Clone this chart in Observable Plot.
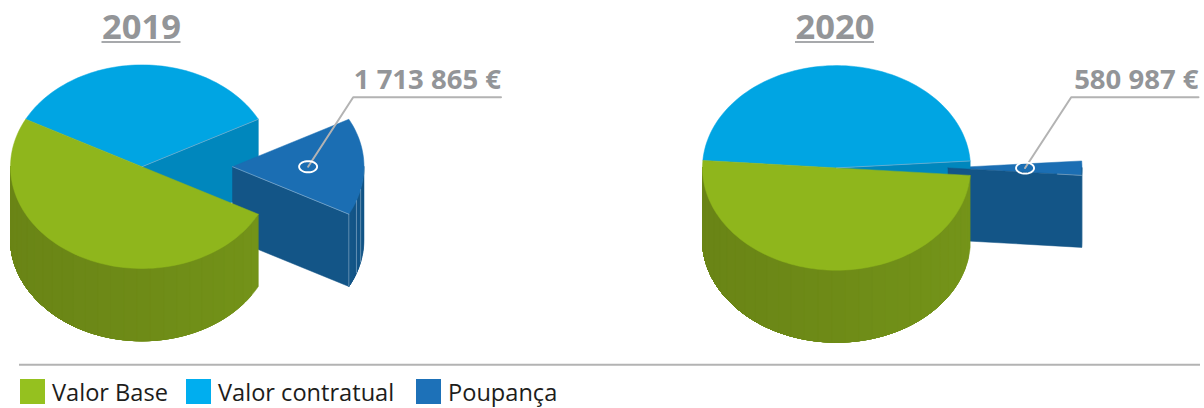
<!DOCTYPE html>
<html>
<head>
<meta charset="utf-8">
<script src="https://cdn.jsdelivr.net/npm/d3@7"></script>
<script src="https://cdn.jsdelivr.net/npm/@observablehq/plot@0.6"></script>
<style>
html,body{margin:0;padding:0;background:#fff;width:1204px;height:408px;overflow:hidden}
svg{display:block}
.legend{position:relative;height:36px;font:23.6px "Open Sans",sans-serif;color:#1d1d1b}
.legend i{position:absolute;top:7px;width:25px;height:25px}
.legend span{position:absolute;top:4px;line-height:32px;white-space:nowrap}
</style>
</head>
<body>
<div id="chart"></div>
<div class="legend" id="legend"></div>
<script>
// Data
const categories = ["Valor Base", "Valor contratual", "Poupança"];
const years = ["2019", "2020"];
const values2019 = [5550000, 3836000, 1713865];
const values2020 = [12910000, 12330000, 580987];
const labels = ["1 713 865 €", "580 987 €"];

// Colours
const legendColors = ["#95c11f", "#00aeef", "#1d71b8"];
const topColors = ["#8fb61c", "#00a5e3", "#1b6eb3"];
const cutColors = [null, "#0087bd", "#135587"];
const wallColors = [["#6a8516", "#749419"], null, ["#135587", "#135587"]];
const seam = "#a9c4d8";
const gray = "#939598";
const ruleGray = "#b3b3b3";

// Layout of each pie
const pies = [
  {year: years[0], values: values2019, label: labels[0], cx: 141.5, cy: 166.2, rx: 131.5, ry: 101.8, depth: 72.3, start: 27.8, explode: 90.5,
   order: ["t1", "c1", "w2", "c2", "t2", "w0", "t0"], seams: [13, 19.5, 27.8],
   titleX: 141, under: [101.5, 180.5], labelEnd: 500.5, elbow: 352.7},
  {year: years[1], values: values2020, label: labels[1], cx: 836, cy: 167.4, rx: 134, ry: 102.3, depth: 72, start: 4.2, explode: 111.5,
   order: ["t1", "t2", "c1", "w2", "c2", "w0", "t0"], seams: [],
   titleX: 834.5, under: [795, 874], labelEnd: 1198, elbow: 1070.7}
];
const rad = Math.PI / 180;

// Faces of the pies, every shape computed from the values
const faces = [], edges = [], rings = [], leaders = [];
pies.forEach((p, pi) => {
  const total = d3.sum(p.values);
  let a = p.start;
  const spans = p.values.map(v => { const s = [a, a + v / total * 360]; a = s[1]; return s; });
  const dx = i => (i === 2 ? p.explode : 0);
  const at = (ang, i, r = 1) => [
    p.cx + dx(i) + r * p.rx * Math.cos(ang * rad),
    p.cy + r * p.ry * Math.sin(ang * rad)
  ];
  const add = (id, color, pts) => [...pts, pts[0]].forEach(([x, y]) => faces.push({id, color, x, y}));
  const parts = {};
  spans.forEach(([a0, a1], i) => {
    const steps = Math.max(4, Math.ceil((a1 - a0) / 2));
    const arc = d3.range(steps + 1).map(k => at(a0 + (a1 - a0) * k / steps, i));
    parts["t" + i] = [[`${pi}-t${i}`, topColors[i], [at(0, i, 0), ...arc]]];
    // the cut face behind the end of the wedge
    if (cutColors[i]) {
      const e = at(a1, i);
      const o = at(0, i, 0);
      parts["c" + i] = [[`${pi}-c${i}`, cutColors[i], [o, e, [e[0], e[1] + p.depth], [o[0], o[1] + p.depth]]]];
    }
    // the rounded wall: stepped shades on the front half only; each band runs
    // on under the next one, so that no background shows between the bands
    if (wallColors[i]) {
      const strips = [];
      const tint = d3.interpolateRgb(wallColors[i][0], wallColors[i][1]);
      const shift = a0 >= 180 ? 360 : 0;
      const s0 = Math.max(a0 - shift, 0), s1 = Math.min(a1 - shift, 180);
      const n = Math.ceil((s1 - s0) / 6);
      d3.range(n).forEach(k => {
        const b0 = s0 + (s1 - s0) * k / n;
        const b1 = s0 + (s1 - s0) * (k + 1) / n;
        const m = Math.max(2, Math.ceil((s1 - b0) / 1.5));
        const fine = d3.range(m + 1).map(j => at(b0 + (s1 - b0) * j / m, i));
        const t = Math.cos((b0 + b1) / 2 * rad);
        const c = tint(Math.pow((1 + t) / 2, 1.3));
        const poly = [...fine, ...fine.slice().reverse().map(q => [q[0], q[1] + p.depth])];
        strips.push([`${pi}-w${i}-${k}`, c, poly]);
      });
      parts["w" + i] = strips;
    }
  });
  p.order.forEach(key => (parts[key] || []).forEach(([id, color, pts]) => add(id, color, pts)));

  // fine lighter seams
  const poupEnd = spans[2][1];
  const blueEnd = spans[1][1];
  const e2 = at(poupEnd, 2), o2 = at(0, 2, 0), e1 = at(blueEnd, 1), o1 = at(0, 1, 0);
  [[o1, e1], [pi === 0 ? o2 : at(poupEnd - 360, 2, 0.82), e2]].forEach((seg, k) =>
    seg.forEach(([x, y]) => edges.push({id: `${pi}-e${k}`, x, y})));
  p.seams.forEach((s, k) => {
    const q = at(s, 2);
    edges.push({id: `${pi}-s${k}`, x: q[0], y: q[1]}, {id: `${pi}-s${k}`, x: q[0], y: q[1] + p.depth});
  });

  // marker and leader line on the saving slice
  const mid = (spans[2][0] + spans[2][1]) / 2;
  const c = at(mid, 2, 0.575);
  d3.range(0, 361, 10).forEach(d =>
    rings.push({id: pi, x: c[0] + 9 * Math.cos(d * rad), y: c[1] + 5.6 * Math.sin(d * rad)}));
  [[c[0], c[1]], [p.elbow, 96.7], [p.labelEnd, 96.7]].forEach(([x, y]) => leaders.push({id: pi, x, y}));
});

const line = (data, o) => Plot.line(data, {x: "x", y: "y", z: "id", curve: "linear", ...o});

const chart = Plot.plot({
  width: 1204,
  height: 372,
  margin: 0,
  x: {domain: [0, 1204], range: [0, 1204], axis: null},
  y: {domain: [0, 372], range: [0, 372], axis: null},
  color: {type: "identity"},
  marks: [
    line(faces, {fill: "color", stroke: "color", strokeWidth: 0.5}),
    line(edges, {stroke: seam, strokeWidth: 0.7, strokeOpacity: 0.75}),
    line(leaders, {stroke: ruleGray, strokeWidth: 2}),
    line(rings, {stroke: "#fff", strokeWidth: 1.9, fill: "none"}),
    Plot.text(pies, {x: "titleX", y: () => 38, text: "year", fill: gray, fontSize: 34.5, fontWeight: 700, fontFamily: "Open Sans", textAnchor: "middle", lineAnchor: "bottom"}),
    Plot.ruleY(pies, {y: () => 41.5, x1: d => d.under[0], x2: d => d.under[1], stroke: "#a7a9ac", strokeWidth: 2}),
    Plot.text(pies, {x: "labelEnd", y: () => 88, text: "label", fill: gray, fontSize: 27.5, fontWeight: 700, fontFamily: "Open Sans", textAnchor: "end", lineAnchor: "bottom"}),
    Plot.ruleY([364.3], {x1: 19, x2: 1200, stroke: ruleGray, strokeWidth: 2})
  ]
});
document.getElementById("chart").append(chart);

// Legend
const legend = document.getElementById("legend");
const swatchX = [20, 186, 416];
categories.forEach((c, i) => {
  const s = document.createElement("i");
  s.style.left = swatchX[i] + "px";
  s.style.background = legendColors[i];
  const t = document.createElement("span");
  t.style.left = swatchX[i] + 32 + "px";
  t.textContent = c;
  legend.append(s, t);
});
</script>
</body>
</html>
